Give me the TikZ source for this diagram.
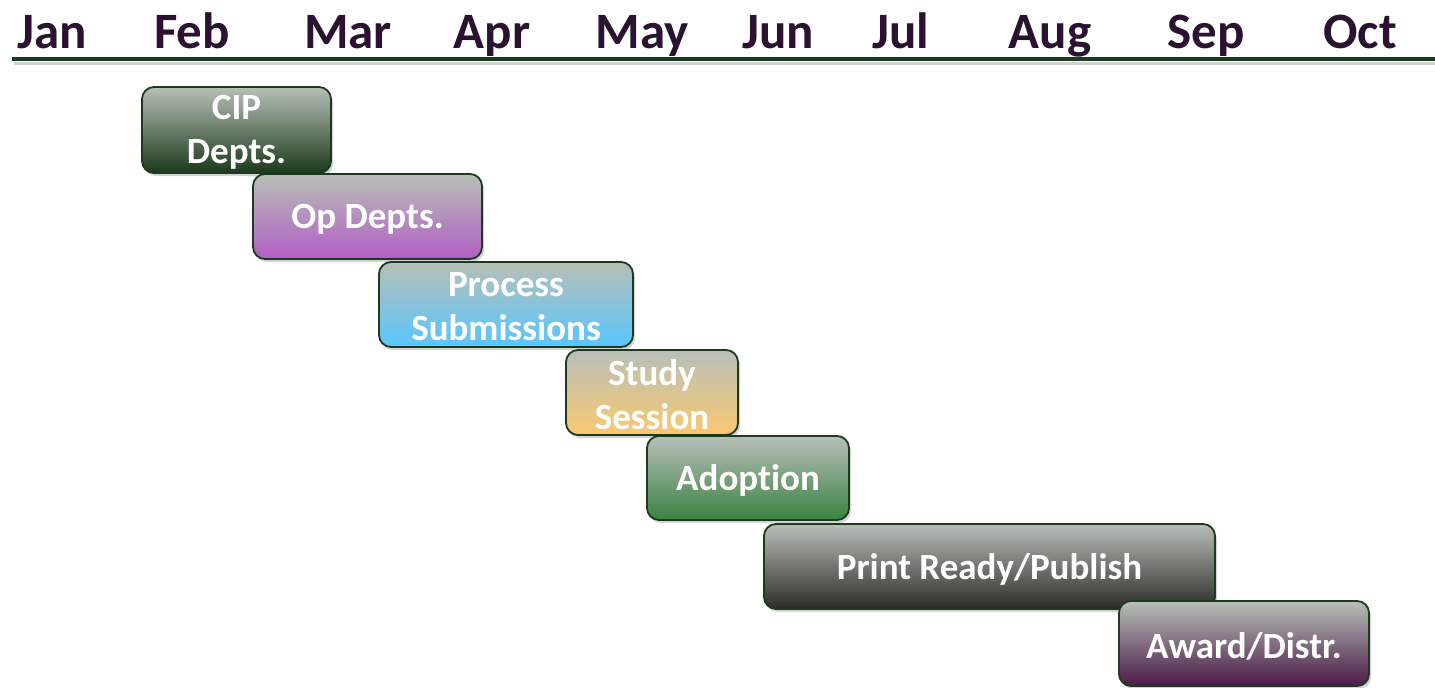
\documentclass[tikz,border=0pt]{standalone}
\usepackage{fontspec}
\setmainfont{Carlito}[Ligatures=NoCommon]
\usetikzlibrary{shadows}
\definecolor{mon}{HTML}{2A1230}
\definecolor{edge}{HTML}{1E3A1E}
\definecolor{topg}{HTML}{B8BFB8}
\definecolor{cipb}{HTML}{1A3A1A}
\definecolor{opb}{HTML}{B25EC4}
\definecolor{prb}{HTML}{58C6FC}
\definecolor{stb}{HTML}{FAC870}
\definecolor{adb}{HTML}{3A8242}
\definecolor{pub}{HTML}{2C2C26}
\definecolor{awb}{HTML}{4A1A48}
\tikzset{
  month/.style={anchor=base, text=mon, font=\fontsize{51}{51}\selectfont\bfseries},
  task/.style={draw=edge, line width=1.8pt, rounded corners=12pt, top color=topg,
    inner sep=0pt,
    drop shadow={opacity=0.35, shadow xshift=2pt, shadow yshift=-3pt}},
  tasktext/.style={text=white, align=center, inner sep=0pt,
    font=\fontsize{37}{44}\selectfont\bfseries, yshift=-2.5pt},
}
\begin{document}
\begin{tikzpicture}[x=1pt,y=-1pt]
\useasboundingbox (0,0) rectangle (1435,688);
\node[month] (jan) at (52,48) {Jan};
\node[month] (feb) at (192,48) {Feb};
\node[month] (mar) at (348,48) {Mar};
\node[month] (apr) at (492,48) {Apr};
\node[month] (may) at (642,48) {May};
\node[month] (jun) at (778,48) {Jun};
\node[month] (jul) at (901,48) {Jul};
\node[month] (aug) at (1050,48) {Aug};
\node[month] (sep) at (1206,48) {Sep};
\node[month] (oct) at (1360,48) {Oct};
\coordinate (l0) at (12,59);
\coordinate (l1) at (1435,59);
\coordinate (s0) at (14,63);
\coordinate (s1) at (1435,63);
\draw[black!18, line width=3pt] (s0) -- (s1);
\draw[edge, line width=4pt] (l0) -- (l1);
\node[task, bottom color=cipb, minimum width=189pt, minimum height=86pt] (cip) at (236.5,130) {};
\node[tasktext] (cipt) at (cip.center) {CIP\\Depts.};
\node[task, bottom color=opb, minimum width=229pt, minimum height=85pt] (op) at (367.5,216.5) {};
\node[tasktext] (opt) at (op.center) {Op Depts.};
\node[task, bottom color=prb, minimum width=254pt, minimum height=85pt] (pr) at (506,304.5) {};
\node[tasktext] (prt) at (pr.center) {Process\\Submissions};
\node[task, bottom color=stb, minimum width=172pt, minimum height=85pt] (st) at (652,392.5) {};
\node[tasktext] (stt) at (st.center) {Study\\Session};
\node[task, bottom color=adb, minimum width=202pt, minimum height=84pt] (ad) at (748,478) {};
\node[tasktext] (adt) at (ad.center) {Adoption};
\node[task, bottom color=pub, minimum width=451pt, minimum height=85pt] (pu) at (989.5,566.5) {};
\node[tasktext] (put) at (pu.center) {Print Ready/Publish};
\node[task, bottom color=awb, minimum width=250pt, minimum height=85pt] (aw) at (1244,643.5) {};
\node[tasktext] (awt) at (aw.center) {Award/Distr.};
\end{tikzpicture}
\end{document}
